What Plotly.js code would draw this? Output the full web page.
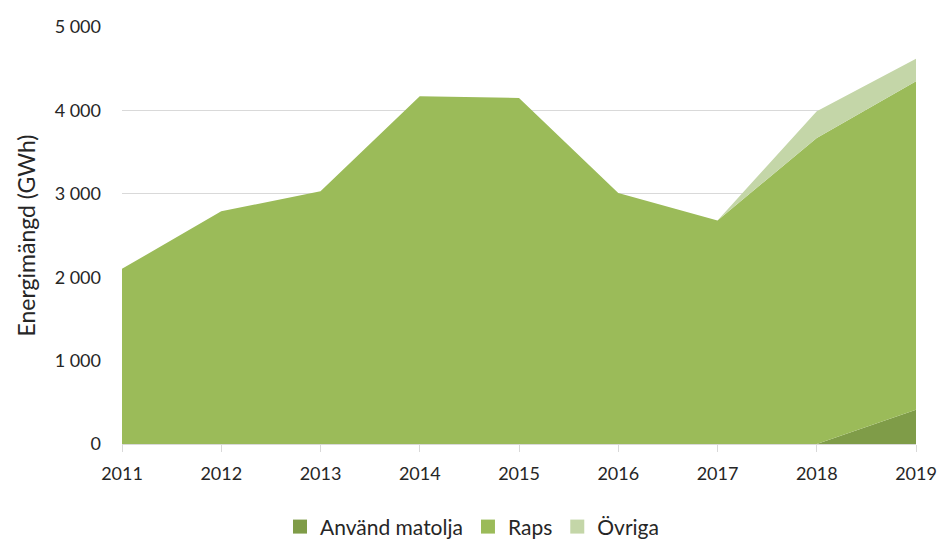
<!DOCTYPE html>
<html>
<head>
<meta charset="utf-8">
<script src="https://cdn.plot.ly/plotly-3.0.1.min.js"></script>
<style>html,body{margin:0;padding:0;background:#fff;}#chart{width:944px;height:541px;}</style>
</head>
<body>
<div id="chart"></div>
<script>
const years = [2011, 2012, 2013, 2014, 2015, 2016, 2017, 2018, 2019];
const anvandMatolja = [0, 0, 0, 0, 0, 0, 0, 0, 410];
const raps = [2100, 2790, 3030, 4170, 4150, 3010, 2680, 3670, 3940];
const ovriga = [0, 0, 0, 0, 0, 0, 0, 320, 270];
const seriesNames = ['Använd matolja', 'Raps', 'Övriga'];
const colors = ['#7f9c48', '#9bbb59', '#c4d6a8'];

const seriesValues = [anvandMatolja, raps, ovriga];
const traces = seriesValues.map((vals, i) => ({
  x: years,
  y: vals,
  name: seriesNames[i],
  legendgroup: seriesNames[i],
  showlegend: false,
  type: 'scatter',
  mode: 'none',
  stackgroup: 'one',
  fillcolor: colors[i],
  line: {width: 0},
  hoverinfo: 'x+y+name'
}));
// legend entries (square swatches)
seriesNames.forEach((n, i) => traces.push({
  x: [null], y: [null], name: n, legendgroup: n, type: 'scatter', mode: 'markers',
  marker: {symbol: 'square', size: 14, color: colors[i]}, showlegend: true
}));

const FONT = 'Lato, "Open Sans", sans-serif';
const layout = {
  width: 944,
  height: 541,
  margin: {l: 122, r: 28, t: 27, b: 97},
  paper_bgcolor: '#ffffff',
  plot_bgcolor: '#ffffff',
  separators: ', ',
  font: {family: FONT, size: 18, color: '#262626'},
  showlegend: true,
  legend: {
    orientation: 'h',
    x: 0.5,
    xref: 'container',
    xanchor: 'center',
    y: 0.026,
    yref: 'container',
    yanchor: 'middle',
    font: {size: 21, color: '#262626'},
    traceorder: 'normal',
    itemwidth: 30,
    tracegroupgap: 0
  },
  xaxis: {
    type: 'linear',
    range: [2011, 2019],
    tickmode: 'array',
    tickvals: years,
    ticktext: years.map(String),
    showgrid: false,
    zeroline: false,
    showline: true,
    linecolor: '#d9d9d9',
    linewidth: 1,
    ticks: 'outside',
    ticklen: 7,
    tickcolor: '#d9d9d9',
    ticklabelstandoff: 6,
    tickfont: {size: 18, color: '#262626'}
  },
  yaxis: {
    range: [0, 5000],
    tickmode: 'linear',
    tick0: 0,
    dtick: 1000,
    tickformat: ',d',
    showgrid: true,
    gridcolor: '#d9d9d9',
    gridwidth: 1,
    zeroline: false,
    showline: false,
    ticks: '',
    ticklabelstandoff: 20,
    tickfont: {size: 18, color: '#262626'},
    title: {text: 'Energimängd (GWh)', font: {size: 23, color: '#262626'}, standoff: 12}
  }
};

Plotly.newPlot('chart', traces, layout, {displayModeBar: false, staticPlot: true});
</script>
</body>
</html>
